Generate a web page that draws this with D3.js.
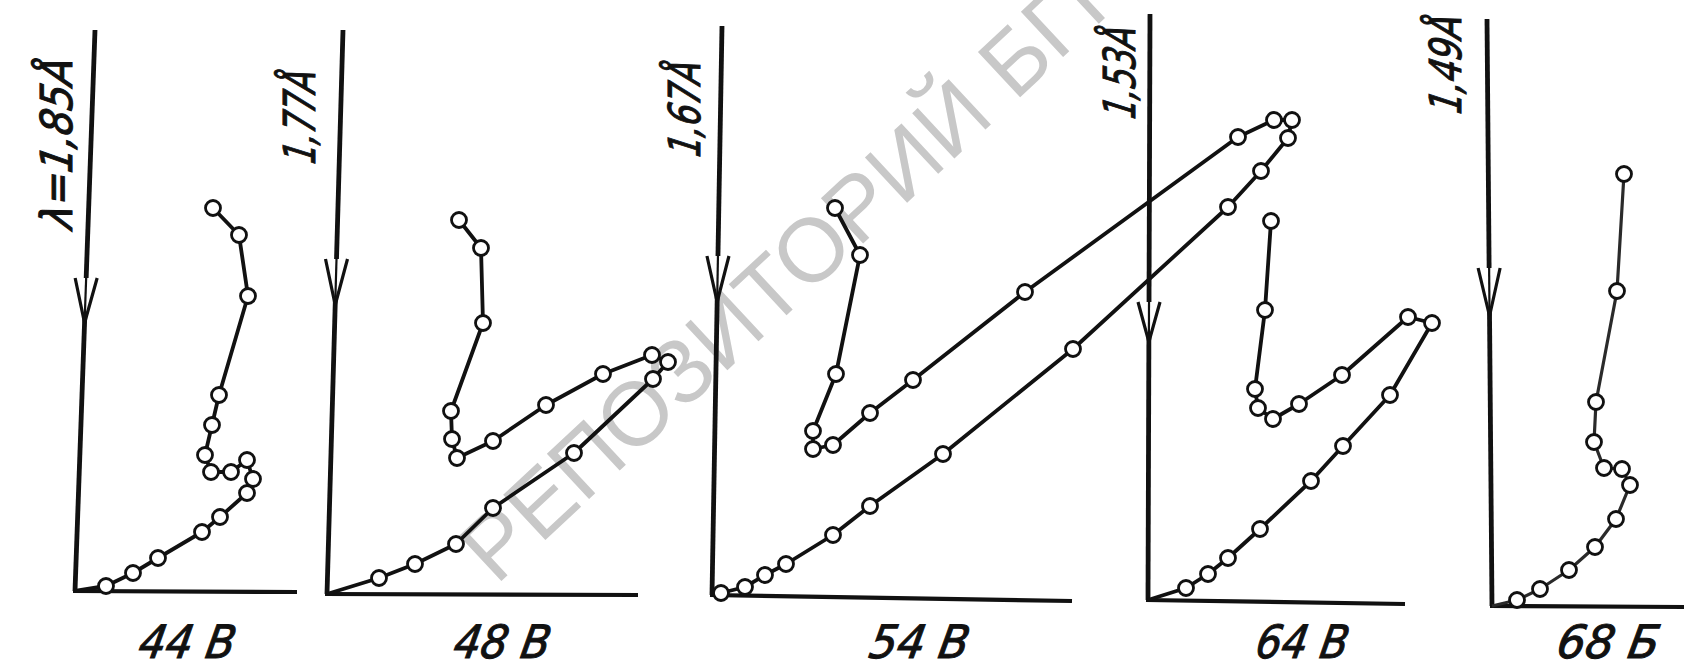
<!DOCTYPE html>
<html>
<head>
<meta charset="utf-8">
<script src="https://cdn.jsdelivr.net/npm/d3@7"></script>
<style>
  body { margin: 0; background: #fff; }
  svg { display: block; }
</style>
</head>
<body>
<div id="chart"></div>
<script>
// labels under and beside the five panels
var voltages = ["44 В", "48 В", "54 В", "64 В", "68 Б"];
var wavelengths = ["λ=1,85Å", "1,77Å", "1,67Å", "1,53Å", "1,49Å"];

// measured points [x, y], arbitrary units counted from the origin of each panel
var curve44 = [[13.8,38.3],[16.4,35.6],[17.3,29.5],[14.4,19.6],[13.7,16.6],[13.0,13.6],[13.6,11.9],
               [15.6,11.9],[17.2,13.1],[17.8,11.2],[17.2,9.8],[14.5,7.4],[12.7,5.9],[8.3,3.3],[5.8,1.8],[3.1,0.5]];
var curve48 = [[13.2,37.4],[15.4,34.6],[15.6,27.1],[12.4,18.3],[12.5,15.5],[13.0,13.6],[16.6,15.3],
               [21.9,18.9],[27.6,22.0],[32.5,23.9],[34.1,23.2],[32.6,21.5],[24.7,14.1],[16.6,8.6],[12.9,5.0],[8.8,3.0],[5.2,1.6]];
var curve54 = [[12.3,38.7],[14.8,34.0],[12.4,22.1],[10.1,16.4],[10.1,14.6],[12.1,15.0],[15.8,18.2],[20.1,21.5],
               [31.3,30.3],[52.6,45.8],[56.2,47.5],[58.0,47.5],[57.6,45.7],[54.9,42.4],[51.6,38.8],[36.1,24.6],
               [23.1,14.1],[15.8,8.9],[12.1,6.0],[7.4,3.1],[5.3,2.0],[3.3,0.8],[0.9,0.2]];
var curve64 = [[12.3,37.9],[11.7,29.0],[10.7,21.1],[11.0,19.2],[12.5,18.1],[15.1,19.6],[19.4,22.5],[26.0,28.3],
               [28.4,27.7],[24.2,20.5],[19.5,15.4],[16.3,11.9],[11.2,7.1],[8.0,4.2],[6.0,2.6],[3.8,1.2]];
var curve68 = [[13.2,43.2],[12.5,31.5],[10.4,20.4],[10.2,16.4],[11.2,13.8],[13.0,13.7],[13.8,12.1],
               [12.4,8.7],[10.3,5.9],[7.7,3.6],[4.8,1.7],[2.5,0.6]];
var curves = [curve44, curve48, curve54, curve64, curve68];

// where each panel sits on the page (origin, axis ends, arrow, labels)
var layout = [
  {ox: 75,   oy: 591, topX: 95,   topY: 30, endX: 297,  endY: 592, arrowY: 278, arrowH: 45, labelX: 185,  labelW: 96,  lamX: 72,   lamY: 230, lamL: 170},
  {ox: 327,  oy: 594, topX: 343,  topY: 30, endX: 638,  endY: 595, arrowY: 259, arrowH: 46, labelX: 500,  labelW: 96,  lamX: 315,  lamY: 165, lamL: 93},
  {ox: 712,  oy: 595, topX: 722,  topY: 26, endX: 1072, endY: 601, arrowY: 256, arrowH: 46, labelX: 917,  labelW: 99,  lamX: 700,  lamY: 158, lamL: 95},
  {ox: 1148, oy: 600, topX: 1150, topY: 14, endX: 1405, endY: 604, arrowY: 302, arrowH: 40, labelX: 1300, labelW: 92,  lamX: 1135, lamY: 120, lamL: 92},
  {ox: 1492, oy: 606, topX: 1487, topY: 19, endX: 1684, endY: 607, arrowY: 268, arrowH: 48, labelX: 1606, labelW: 102, lamX: 1461, lamY: 115, lamL: 98}
];

var w = 1684,
    h = 667,
    ink = "#111",
    labelFont = "'DejaVu Sans Condensed', 'Liberation Sans Narrow', sans-serif";

var svg = d3.select("#chart")
            .append("svg")
            .attr("width", w)
            .attr("height", h);

svg.append("rect").attr("width", w).attr("height", h).attr("fill", "#fff");

// watermark of the repository, underneath everything
svg.append("text")
   .attr("transform", "translate(496,586) rotate(-43)")
   .attr("font-family", "'Liberation Sans', Arial, sans-serif")
   .attr("font-size", 90)
   .attr("fill", "#c8c8c8")
   .text("РЕПОЗИТОРИЙ БГПУ");

layout.forEach(function(p, i){

  var g = svg.append("g");

  // 10 px per unit, same for every panel
  var xScale = d3.scaleLinear().domain([0, 10]).range([p.ox, p.ox + 100]),
      yScale = d3.scaleLinear().domain([0, 10]).range([p.oy, p.oy - 100]);

  // axes, a bit crooked like the drawing
  g.append("line")
   .attr("x1", p.topX).attr("y1", p.topY)
   .attr("x2", p.ox).attr("y2", p.oy)
   .attr("stroke", ink).attr("stroke-width", 4.8);

  g.append("line")
   .attr("x1", p.ox - 2).attr("y1", p.oy)
   .attr("x2", p.endX).attr("y2", p.endY)
   .attr("stroke", ink).attr("stroke-width", 4.2);

  // open arrow on the vertical axis
  var t = (p.arrowY - p.topY) / (p.oy - p.topY),
      ax = p.topX + (p.ox - p.topX) * t,
      ax2 = p.topX + (p.ox - p.topX) * ((p.arrowY + p.arrowH - p.topY) / (p.oy - p.topY));
  g.append("path")
   .attr("d", "M" + (ax - 11) + "," + p.arrowY + "L" + ax2 + "," + (p.arrowY + p.arrowH) + "L" + (ax + 11) + "," + p.arrowY)
   .attr("fill", "#fff")
   .attr("stroke", ink)
   .attr("stroke-width", 3.2)
   .attr("stroke-linejoin", "miter");
  g.append("line")
   .attr("x1", ax).attr("y1", p.arrowY)
   .attr("x2", ax2).attr("y2", p.arrowY + p.arrowH)
   .attr("stroke", ink).attr("stroke-width", 2.2);

  // the curve runs back into the origin
  var line = d3.line()
    .x(function(d){ return xScale(d[0]); })
    .y(function(d){ return yScale(d[1]); });

  g.append("path")
   .datum(curves[i].concat([[0, 0]]))
   .attr("fill", "none")
   .attr("stroke", i == 4 ? "#2a2a2a" : ink)
   .attr("stroke-width", i == 4 ? 3.2 : 3.8)
   .attr("stroke-linejoin", "round")
   .attr("d", line);

  g.selectAll("circle")
   .data(curves[i])
   .enter()
   .append("circle")
   .attr("cx", function(d){ return xScale(d[0]); })
   .attr("cy", function(d){ return yScale(d[1]); })
   .attr("r", 7.5)
   .attr("fill", "#fff")
   .attr("stroke", ink)
   .attr("stroke-width", 2.8);

  // voltage under the panel, hand lettered so slanted a bit more
  g.append("text")
   .attr("transform", "translate(" + p.labelX + ",658) skewX(-10)")
   .attr("text-anchor", "middle")
   .attr("font-family", labelFont)
   .attr("font-style", "italic")
   .attr("font-size", 46)
   .attr("fill", ink)
   .attr("stroke", ink)
   .attr("stroke-width", 1)
   .attr("textLength", p.labelW)
   .attr("lengthAdjust", "spacingAndGlyphs")
   .text(voltages[i]);

  // wavelength written up along the axis
  g.append("text")
   .attr("transform", "translate(" + p.lamX + "," + p.lamY + ") rotate(-90) skewX(-10)")
   .attr("font-family", labelFont)
   .attr("font-style", "italic")
   .attr("font-size", 44)
   .attr("fill", ink)
   .attr("stroke", ink)
   .attr("stroke-width", 1)
   .attr("textLength", p.lamL)
   .attr("lengthAdjust", "spacingAndGlyphs")
   .text(wavelengths[i]);
});
</script>
</body>
</html>
